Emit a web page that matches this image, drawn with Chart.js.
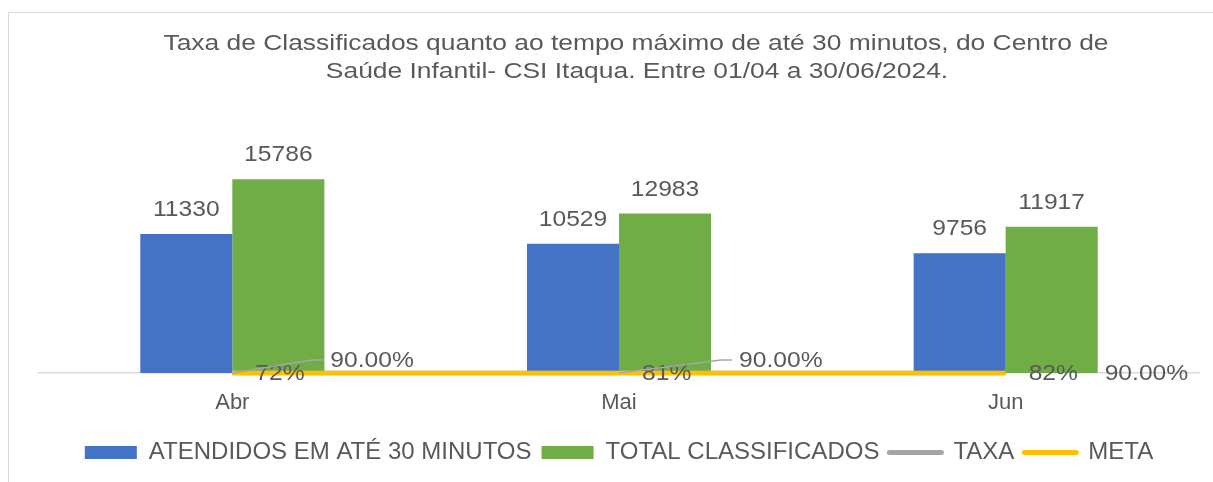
<!DOCTYPE html>
<html>
<head>
<meta charset="utf-8">
<script src="https://cdn.jsdelivr.net/npm/chart.js@4"></script>
<style>
  html, body { margin: 0; padding: 0; background: #ffffff; }
  #wrap { width: 1213px; height: 482px; }
</style>
</head>
<body>
<div id="wrap"><canvas id="c" width="1213" height="482"></canvas></div>
<script>
// ---- data ----
const categories = ["Abr", "Mai", "Jun"];
const atendidos = [11330, 10529, 9756];
const totalClassificados = [15786, 12983, 11917];
const taxa = [0.72, 0.81, 0.82];
const meta = [0.90, 0.90, 0.90];
const seriesNames = ["ATENDIDOS EM ATÉ 30 MINUTOS", "TOTAL CLASSIFICADOS", "TAXA", "META"];
const titleLines = [
  "Taxa de Classificados quanto ao tempo máximo de até 30 minutos, do Centro de",
  "Saúde Infantil- CSI Itaqua. Entre 01/04 a 30/06/2024."
];

// ---- style ----
const FONT = '"Liberation Sans", Arial, Helvetica, sans-serif';
const TEXT = '#595959';
const metaLabelOffsets = [ {dx: 98, dy: -13, leader: true}, {dx: 120, dy: -13, leader: true}, {dx: 99, dy: 0, leader: false} ];

function stretchedText(ctx, txt, x, y, sx, align) {
  ctx.save();
  ctx.translate(x, y);
  ctx.scale(sx, 1);
  ctx.textAlign = align;
  ctx.fillText(txt, 0, 0);
  ctx.restore();
}

const decorPlugin = {
  id: 'decor',
  beforeDraw(chart) {
    const ctx = chart.ctx;
    ctx.save();
    ctx.fillStyle = '#ffffff';
    ctx.fillRect(0, 0, chart.width, chart.height);
    ctx.strokeStyle = '#D9D9D9';
    ctx.lineWidth = 1;
    ctx.strokeRect(8.5, 12.5, 1400, 700);
    ctx.fillStyle = TEXT;
    ctx.font = '22px ' + FONT;
    ctx.textBaseline = 'alphabetic';
    stretchedText(ctx, titleLines[0], 636, 50, 1.2, 'center');
    stretchedText(ctx, titleLines[1], 637, 78, 1.2, 'center');
    ctx.restore();
  },
  afterDatasetsDraw(chart) {
    const ctx = chart.ctx;
    const sx = 1.12;
    ctx.save();
    ctx.font = '22px ' + FONT;
    ctx.fillStyle = TEXT;
    ctx.textBaseline = 'middle';
    // bar labels
    [0, 1].forEach(di => {
      const m = chart.getDatasetMeta(di);
      m.data.forEach((el, i) => {
        stretchedText(ctx, String(chart.data.datasets[di].data[i]), el.x, el.y - 24, sx, 'center');
      });
    });
    // taxa labels
    const mt = chart.getDatasetMeta(2);
    mt.data.forEach((el, i) => {
      stretchedText(ctx, Math.round(taxa[i] * 100) + '%', el.x + 23, el.y + 1, sx, 'left');
    });
    // meta labels with leader lines
    const mm = chart.getDatasetMeta(3);
    mm.data.forEach((el, i) => {
      const o = metaLabelOffsets[i];
      const lx = el.x + o.dx, ly = el.y + o.dy;
      if (o.leader) {
        ctx.strokeStyle = '#A6A6A6';
        ctx.lineWidth = 1.5;
        ctx.beginPath();
        ctx.moveTo(el.x, el.y);
        ctx.lineTo(lx - 18, ly);
        ctx.lineTo(lx - 7, ly);
        ctx.stroke();
      }
      stretchedText(ctx, (meta[i] * 100).toFixed(2) + '%', lx, ly + 1, sx, 'left');
    });
    ctx.restore();
  }
};

new Chart(document.getElementById('c'), {
  data: {
    labels: categories,
    datasets: [
      { type: 'bar', label: seriesNames[0], data: atendidos, backgroundColor: '#4472C4', borderWidth: 0, order: 2 },
      { type: 'bar', label: seriesNames[1], data: totalClassificados, backgroundColor: '#70AD47', borderWidth: 0, order: 2 },
      { type: 'line', label: seriesNames[2], data: taxa, borderColor: '#A5A5A5', backgroundColor: '#A5A5A5', borderWidth: 4.5, pointRadius: 0, clip: false, order: 1 },
      { type: 'line', label: seriesNames[3], data: meta, borderColor: '#FFC000', backgroundColor: '#FFC000', borderWidth: 4.5, pointRadius: 0, clip: false, order: 0 }
    ]
  },
  options: {
    responsive: false,
    devicePixelRatio: 1,
    animation: false,
    layout: { padding: { top: 152, left: 39, right: 14, bottom: 7.6 } },
    datasets: { bar: { barPercentage: 1, categoryPercentage: 0.476 } },
    scales: {
      x: {
        grid: { display: false, drawTicks: false },
        border: { display: true, color: '#D9D9D9', width: 1.5 },
        ticks: { color: TEXT, font: { family: FONT, size: 22 }, padding: 17 },
        afterFit(scale) { scale.height -= 3; }
      },
      y: { display: false, min: 0, max: 18000 }
    },
    plugins: {
      title: { display: false },
      tooltip: { enabled: false },
      legend: {
        position: 'bottom',
        labels: {
          color: TEXT,
          font: { family: FONT, size: 24 },
          usePointStyle: true,
          pointStyleWidth: 52,
          boxHeight: 13,
          padding: 10,
          sort: (a, b) => a.datasetIndex - b.datasetIndex,
          generateLabels(chart) {
            const items = Chart.defaults.plugins.legend.labels.generateLabels(chart);
            return items.map(it => {
              const ds = chart.data.datasets[it.datasetIndex];
              if (ds.type === 'line') {
                it.pointStyle = 'line';
                it.lineWidth = 5;
                it.lineCap = 'round';
                it.strokeStyle = ds.borderColor;
                it.fillStyle = ds.borderColor;
              } else {
                it.pointStyle = 'rect';
                it.lineWidth = 0;
                it.fillStyle = ds.backgroundColor;
              }
              return it;
            });
          }
        }
      }
    }
  },
  plugins: [decorPlugin]
});
</script>
</body>
</html>
